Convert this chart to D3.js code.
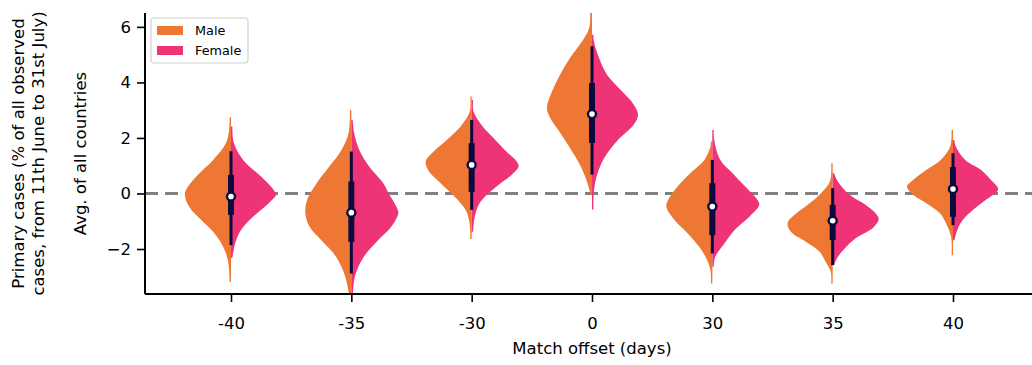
<!DOCTYPE html>
<html>
<head>
<meta charset="utf-8">
<script src="https://cdn.jsdelivr.net/npm/d3@7"></script>
<style>
  html, body { margin: 0; padding: 0; background: #fff; }
  svg { display: block; font-family: "DejaVu Sans", sans-serif; }
</style>
</head>
<body>
<svg id="chart" width="1032" height="365"></svg>
<script>
// Match offsets (days) shown along the x axis
const categories = ["-40", "-35", "-30", "0", "30", "35", "40"];

// Violin outlines: [value, relative density] from top tip to bottom tip
const maleProfiles = [
  [[2.75,0.03],[2.29,0.04],[1.81,0.11],[1.21,0.38],[0.61,0.74],[0.01,0.98],[-0.48,0.89],[-0.95,0.64],[-1.42,0.36],[-1.78,0.21],[-2.14,0.11],[-2.58,0.05],[-3.18,0.03]],
  [[3.01,0.03],[2.17,0.06],[1.57,0.21],[0.97,0.47],[0.37,0.74],[-0.23,0.94],[-0.71,0.98],[-1.20,0.89],[-1.68,0.64],[-2.15,0.38],[-2.64,0.21],[-3.12,0.11],[-3.84,0.03]],
  [[3.49,0.03],[2.95,0.04],[2.47,0.21],[1.99,0.49],[1.51,0.81],[1.15,0.98],[0.79,0.91],[0.43,0.70],[0.06,0.47],[-0.30,0.26],[-0.66,0.11],[-1.14,0.04],[-1.64,0.03]],
  [[6.68,0.04],[5.96,0.06],[5.48,0.21],[4.88,0.47],[4.28,0.68],[3.68,0.85],[3.08,0.96],[2.72,0.89],[2.24,0.70],[1.64,0.47],[1.04,0.26],[0.44,0.11],[-0.04,0.03]],
  [[1.87,0.03],[1.69,0.04],[1.21,0.17],[0.73,0.47],[0.25,0.74],[-0.23,0.94],[-0.48,0.98],[-0.95,0.81],[-1.43,0.53],[-1.92,0.28],[-2.40,0.11],[-2.76,0.04],[-3.24,0.03]],
  [[1.09,0.03],[0.43,0.06],[-0.05,0.28],[-0.41,0.53],[-0.77,0.81],[-1.07,0.96],[-1.38,0.89],[-1.74,0.57],[-2.10,0.28],[-2.46,0.15],[-2.82,0.04],[-3.24,0.03]],
  [[2.29,0.03],[1.69,0.06],[1.21,0.26],[0.85,0.57],[0.49,0.85],[0.25,0.98],[-0.05,0.85],[-0.35,0.57],[-0.71,0.28],[-1.07,0.15],[-1.56,0.04],[-2.22,0.03]]
];
const femaleProfiles = [
  [[2.41,0.03],[1.82,0.06],[1.21,0.26],[0.61,0.64],[0.13,0.91],[-0.05,0.96],[-0.34,0.81],[-0.84,0.47],[-1.32,0.21],[-1.78,0.09],[-2.32,0.03]],
  [[2.65,0.03],[2.17,0.06],[1.57,0.17],[0.97,0.38],[0.37,0.68],[0.02,0.79],[-0.48,0.96],[-0.71,1.00],[-1.20,0.85],[-1.68,0.57],[-2.15,0.32],[-2.64,0.15],[-3.12,0.06],[-3.77,0.03]],
  [[3.37,0.03],[2.95,0.04],[2.47,0.21],[1.99,0.47],[1.51,0.74],[1.15,0.96],[0.97,1.00],[0.67,0.85],[0.31,0.57],[-0.05,0.32],[-0.41,0.15],[-0.88,0.06],[-1.38,0.03]],
  [[5.72,0.03],[5.48,0.04],[4.88,0.15],[4.28,0.32],[3.68,0.64],[3.20,0.89],[2.84,0.98],[2.48,0.89],[1.88,0.53],[1.28,0.26],[0.68,0.11],[0.08,0.04],[-0.58,0.03]],
  [[2.29,0.03],[1.93,0.04],[1.21,0.17],[0.73,0.43],[0.25,0.70],[-0.23,0.96],[-0.41,1.00],[-0.84,0.79],[-1.32,0.47],[-1.79,0.26],[-2.28,0.06],[-2.64,0.03]],
  [[0.73,0.03],[0.43,0.11],[-0.05,0.36],[-0.41,0.70],[-0.77,0.94],[-0.95,0.98],[-1.25,0.85],[-1.61,0.49],[-1.97,0.26],[-2.34,0.09],[-2.58,0.03]],
  [[1.93,0.03],[1.69,0.06],[1.21,0.26],[0.85,0.60],[0.49,0.81],[0.25,0.94],[0.13,0.96],[-0.23,0.70],[-0.59,0.43],[-0.95,0.21],[-1.32,0.09],[-1.68,0.03]]
];

// Inner box summary for each offset (both sexes pooled)
const whiskerLow  = [-1.86, -2.88, -0.59, 0.68, -2.16, -2.58, -1.14];
const quartile1   = [-0.77, -1.74,  0.06, 1.82, -1.50, -1.68, -0.84];
const medians     = [-0.11, -0.69,  1.03, 2.86, -0.47, -0.98,  0.16];
const quartile3   = [ 0.67,  0.43,  1.81, 3.98,  0.37, -0.41,  0.95];
const whiskerHigh = [ 1.52,  1.51,  2.65, 5.30,  1.21,  0.19,  1.45];

const yTicks = [-2, 0, 2, 4, 6];
const seriesNames = ["Male", "Female"];
const seriesColors = ["#EE7733", "#EE3377"];

// Layout
const plot = { left: 145, right: 1032, top: 13, bottom: 294 };
const svg = d3.select("#chart");

const x = d3.scalePoint().domain(categories).range([231, 953]);
const y = d3.scaleLinear().domain([-3.62, 6.5]).range([plot.bottom, plot.top]);
const halfWidth = d3.scaleLinear().domain([0, 1]).range([0, x.step() * 0.39]);

svg.append("defs").append("clipPath").attr("id", "plotClip")
  .append("rect")
  .attr("x", plot.left).attr("y", plot.top)
  .attr("width", plot.right - plot.left).attr("height", plot.bottom - plot.top);

// Zero reference line
svg.append("line")
  .attr("x1", plot.left).attr("x2", plot.right)
  .attr("y1", y(0)).attr("y2", y(0))
  .attr("stroke", "#808080").attr("stroke-width", 3)
  .attr("stroke-dasharray", "13,7");

const violins = svg.append("g").attr("clip-path", "url(#plotClip)");

categories.forEach((c, i) => {
  const cx = x(c);
  const left = d3.area()
    .y(d => y(d[0]))
    .x0(cx)
    .x1(d => cx - halfWidth(d[1]))
    .curve(d3.curveCatmullRom.alpha(0.5));
  const right = d3.area()
    .y(d => y(d[0]))
    .x0(cx)
    .x1(d => cx + halfWidth(d[1]))
    .curve(d3.curveCatmullRom.alpha(0.5));
  violins.append("path").attr("d", left(maleProfiles[i])).attr("fill", seriesColors[0]);
  violins.append("path").attr("d", right(femaleProfiles[i])).attr("fill", seriesColors[1]);
});

// Box inside each violin
const boxColor = "#0c0a3e";
const inner = svg.append("g");
categories.forEach((c, i) => {
  const cx = x(c);
  inner.append("line")
    .attr("x1", cx).attr("x2", cx)
    .attr("y1", y(whiskerLow[i])).attr("y2", y(whiskerHigh[i]))
    .attr("stroke", boxColor).attr("stroke-width", 3);
  inner.append("line")
    .attr("x1", cx).attr("x2", cx)
    .attr("y1", y(quartile1[i])).attr("y2", y(quartile3[i]))
    .attr("stroke", boxColor).attr("stroke-width", 6);
  inner.append("circle")
    .attr("cx", cx).attr("cy", y(medians[i])).attr("r", 4)
    .attr("fill", "#fff").attr("stroke", boxColor).attr("stroke-width", 2.4);
});

// Axes
const tickFont = 16.5;
const yAxis = svg.append("g").attr("transform", `translate(${plot.left},0)`)
  .call(d3.axisLeft(y).tickValues(yTicks).tickSize(8).tickPadding(6)
    .tickFormat(d => d < 0 ? "\u2212" + Math.abs(d) : d));
yAxis.select(".domain").attr("d", `M0,${plot.top}V${plot.bottom}`).attr("stroke-width", 2).attr("stroke", "#000");
yAxis.selectAll(".tick line").attr("stroke-width", 1.6);
yAxis.selectAll(".tick text").attr("font-size", tickFont).attr("font-family", "DejaVu Sans").attr("fill", "#000");

const xAxis = svg.append("g").attr("transform", `translate(0,${plot.bottom})`)
  .call(d3.axisBottom(x).tickSize(8).tickPadding(15));
xAxis.select(".domain").attr("d", `M${plot.left},0H${plot.right}`).attr("stroke-width", 2).attr("stroke", "#000");
xAxis.selectAll(".tick line").attr("stroke-width", 1.6);
xAxis.selectAll(".tick text").attr("font-size", tickFont).attr("font-family", "DejaVu Sans").attr("fill", "#000");

// Axis titles
const midY = (plot.top + plot.bottom) / 2;
const yTitles = [
  { text: "Primary cases (% of all observed", x: 24 },
  { text: "cases, from 11th June to 31st July)", x: 44 },
  { text: "Avg. of all countries", x: 86 }
];
yTitles.forEach(t => {
  svg.append("text")
    .attr("transform", `translate(${t.x},${midY}) rotate(-90)`)
    .attr("text-anchor", "middle")
    .attr("font-size", tickFont)
    .attr("fill", "#000")
    .text(t.text);
});
svg.append("text")
  .attr("x", (x(categories[0]) + x(categories[categories.length - 1])) / 2)
  .attr("y", 354)
  .attr("text-anchor", "middle")
  .attr("font-size", tickFont)
  .attr("fill", "#000")
  .text("Match offset (days)");

// Legend
const legend = svg.append("g").attr("transform", "translate(151,18)");
legend.append("rect")
  .attr("width", 97).attr("height", 45).attr("rx", 3)
  .attr("fill", "#fff").attr("fill-opacity", 0.8)
  .attr("stroke", "#d0d0d0").attr("stroke-width", 1.2);
seriesNames.forEach((name, i) => {
  const g = legend.append("g").attr("transform", `translate(6,${8 + i * 20})`);
  g.append("rect").attr("width", 26).attr("height", 9).attr("fill", seriesColors[i]);
  g.append("text").attr("x", 38).attr("y", 9).attr("font-size", 12.8).attr("fill", "#000").text(name);
});
</script>
</body>
</html>
